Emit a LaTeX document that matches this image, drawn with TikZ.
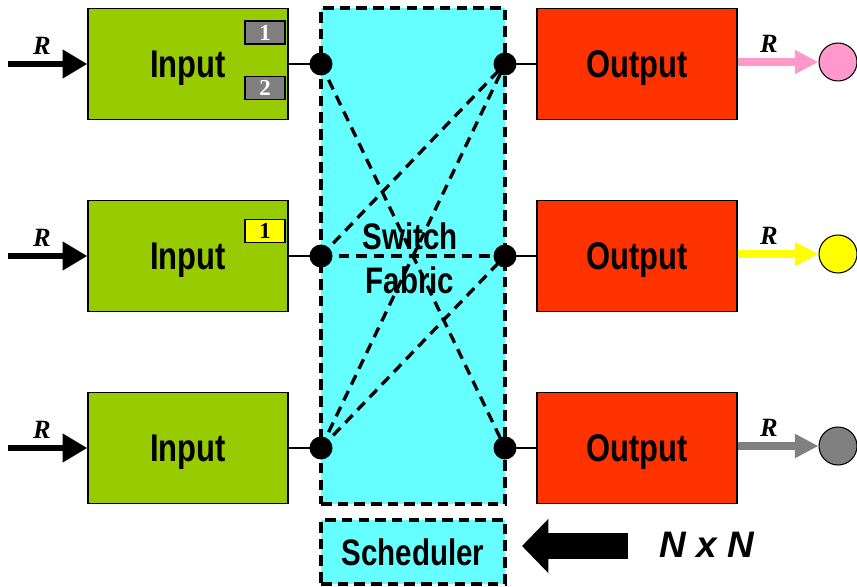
\documentclass[tikz,border=0pt]{standalone}
\usepackage{fontspec}
\setmainfont{Liberation Serif}
\newfontfamily\boxfont{Liberation Sans}[FakeStretch=0.8]
\newfontfamily\plainsans{Liberation Sans}
\usetikzlibrary{arrows.meta,positioning}

\definecolor{inputgreen}{HTML}{99CC00}
\definecolor{outputred}{HTML}{FF3300}
\definecolor{fabriccyan}{HTML}{66FFFF}
\definecolor{cellgray}{HTML}{808080}
\definecolor{flowpink}{HTML}{FF99CC}
\definecolor{flowyellow}{HTML}{FFFF00}
\definecolor{flowgray}{HTML}{808080}

\tikzset{
  inbox/.style={draw, line width=0.8pt, fill=inputgreen, minimum width=4cm, minimum height=2.22cm,
    text depth=0pt, font=\boxfont\bfseries\fontsize{22}{24}\selectfont},
  outbox/.style={inbox, fill=outputred},
  fabricbox/.style={draw, fill=fabriccyan, line width=1.8pt, dash pattern=on 6pt off 3.5pt,
    minimum width=3.68cm, font=\boxfont\bfseries\fontsize{21}{25}\selectfont},
  cell/.style={draw, line width=0.6pt, fill=cellgray, text=white, minimum width=0.8cm, minimum height=0.46cm,
    inner sep=0pt, font=\bfseries\fontsize{13}{13}\selectfont},
  port/.style={circle, fill=black, minimum size=0.46cm, inner sep=0pt},
  sink/.style={circle, draw, line width=0.6pt, minimum size=0.76cm, inner sep=0pt},
  rate/.style={font=\bfseries\itshape\fontsize{15}{15}\selectfont},
  inflow/.style={line width=3.4pt, -{Triangle[length=14pt,width=15.5pt]}},
  outflow/.style={line width=4.5pt, -{Triangle[length=13.5pt,width=13pt]}},
  xconn/.style={line width=1.9pt, dash pattern=on 6pt off 4pt},
  wire/.style={line width=1.2pt}
}

\begin{document}
\begin{tikzpicture}[x=0.02cm, y=-0.02cm]
  \useasboundingbox (0,0) rectangle (857,587);
  % fabric and scheduler
  \node [fabricbox, minimum height=9.92cm] (fabric) at (413,256) {};
  \node [fabricbox, minimum height=1.28cm] (sched) at (413,552) {Scheduler};
  %
  \node [inbox] (in1) at (188,64) {Input};
  \node [inbox] (in2) at (188,256) {Input};
  \node [inbox] (in3) at (188,448) {Input};
  \node [outbox] (out1) at (637,64) {Output};
  \node [outbox] (out2) at (637,256) {Output};
  \node [outbox] (out3) at (637,448) {Output};
  %
  \node [cell] (q11) at (265,32.5) {1};
  \node [cell] (q12) at (265,88) {2};
  \node [cell, fill=flowyellow, text=black] (q21) at (265,231) {1};
  %
  \coordinate (l1) at (321,64);
  \coordinate (l2) at (321,256);
  \coordinate (l3) at (321,448);
  \coordinate (r1) at (505,64);
  \coordinate (r2) at (505,256);
  \coordinate (r3) at (505,448);
  \draw [xconn] (l1) -- (r3);
  \draw [xconn] (l2) -- (r1);
  \draw [xconn] (l2) -- (r2);
  \draw [xconn] (l3) -- (r1);
  \draw [xconn] (l3) -- (r2);
  \node [font=\boxfont\bfseries\fontsize{21}{25}\selectfont, align=center] (fabtext) at (410,258) {Switch\\Fabric};
  %
  \draw [wire] (in1.east) -- (l1);
  \draw [wire] (in2.east) -- (l2);
  \draw [wire] (in3.east) -- (l3);
  \draw [wire] (r1) -- (out1.west);
  \draw [wire] (r2) -- (out2.west);
  \draw [wire] (r3) -- (out3.west);
  \node [port] at (l1) {};
  \node [port] at (l2) {};
  \node [port] at (l3) {};
  \node [port] at (r1) {};
  \node [port] at (r2) {};
  \node [port] at (r3) {};
  % arriving traffic
  \coordinate (s1) at (8,64);
  \coordinate (s2) at (8,256);
  \coordinate (s3) at (8,448);
  \draw [inflow] (s1) -- (in1.west);
  \draw [inflow] (s2) -- (in2.west);
  \draw [inflow] (s3) -- (in3.west);
  \node [rate] (rin1) at (42,46) {R};
  \node [rate] (rin2) at (42,238) {R};
  \node [rate] (rin3) at (42,430) {R};
  % departing traffic
  \node [sink, fill=flowpink] (c1) at (838,62) {};
  \node [sink, fill=flowyellow] (c2) at (838,254) {};
  \node [sink, fill=flowgray] (c3) at (838,446) {};
  \draw [outflow, flowpink] (out1.east |- c1) -- (c1.west);
  \draw [outflow, flowyellow] (out2.east |- c2) -- (c2.west);
  \draw [outflow, flowgray] (out3.east |- c3) -- (c3.west);
  \node [rate] (rout1) at (769,44) {R};
  \node [rate] (rout2) at (769,236) {R};
  \node [rate] (rout3) at (769,428) {R};
  % request matrix
  \coordinate (req) at (628,546);
  \coordinate (reqtip) at (522,546);
  \draw [line width=15pt, -{Triangle[length=15pt,width=30pt]}] (req) -- (reqtip);
  \node [font=\plainsans\bfseries\itshape\fontsize{21}{21}\selectfont] (nxn) at (707,545) {N x N};
\end{tikzpicture}
\end{document}
